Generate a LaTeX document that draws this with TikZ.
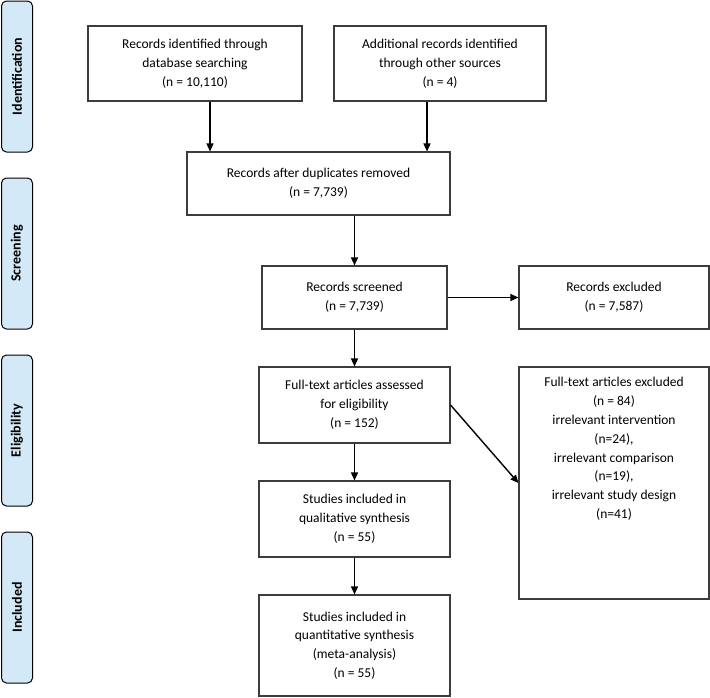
\documentclass[tikz,border=0pt]{standalone}
\usepackage{fontspec}
\setmainfont{Carlito}
\usetikzlibrary{arrows.meta}
\definecolor{phase}{RGB}{212,233,248}
\definecolor{boxline}{RGB}{60,60,60}
\begin{document}
\begin{tikzpicture}[x=1pt,y=-1pt,
  box/.style={draw=boxline,line width=1.1pt,fill=white,align=center,inner sep=2pt,
    font=\fontsize{13.5}{18.8}\selectfont},
  phasebox/.style={draw=black,line width=1pt,fill=phase,rounded corners=5pt,
    minimum height=31pt,minimum width=151pt,rotate=90,
    font=\fontsize{14}{16}\selectfont\bfseries},
  arr/.style={-{Triangle[length=8pt,width=7pt]},line width=1.4pt,black}]
\useasboundingbox (0,0) rectangle (710,697);
% phase labels
\node[phasebox] (pid) at (17,76.5) {Identification};
\node[phasebox] (psc) at (17,253.5) {Screening};
\node[phasebox] (pel) at (17,430.5) {Eligibility};
\node[phasebox] (pin) at (17,607.5) {Included};
% boxes
\node[box,minimum width=214pt,minimum height=75pt] (b1) at (195,63.5)
  {Records identified through\\database searching\\(n = 10,110)};
\node[box,minimum width=212pt,minimum height=75pt] (b2) at (440,63.5)
  {Additional records identified\\through other sources\\(n = 4)};
\node[box,minimum width=263pt,minimum height=63pt] (b3) at (318.5,183.5)
  {Records after duplicates removed\\(n = 7,739)};
\node[box,minimum width=185pt,minimum height=63pt] (b4) at (354.5,297.5)
  {Records screened\\(n = 7,739)};
\node[box,minimum width=190pt,minimum height=63pt] (b5) at (614,297.5)
  {Records excluded\\(n = 7,587)};
\node[box,minimum width=191pt,minimum height=76pt] (b6) at (354.5,405)
  {Full-text articles assessed\\for eligibility\\(n = 152)};
\node[box,minimum width=190pt,minimum height=232pt] (b7) at (614,483) {};
\node[box,draw=none,fill=none,anchor=north] (b7t) at (614,375)
  {Full-text articles excluded\\(n = 84)\\irrelevant intervention\\(n=24),\\irrelevant comparison\\(n=19),\\irrelevant study design\\(n=41)};
\node[box,minimum width=191pt,minimum height=76pt] (b8) at (354.5,519)
  {Studies included in\\qualitative synthesis\\(n = 55)};
\node[box,minimum width=191pt,minimum height=101pt] (b9) at (354.5,645.5)
  {Studies included in\\quantitative synthesis\\(meta-analysis)\\(n = 55)};
% connectors
\draw[arr] ([xshift=15pt]b1.south) -- ([xshift=15pt]b1.south |- b3.north);
\draw[arr] ([xshift=-13pt]b2.south) -- ([xshift=-13pt]b2.south |- b3.north);
\draw[arr] (b4.north |- b3.south) -- (b4.north);
\draw[arr] (b4.east) -- (b5.west);
\draw[arr] (b4.south) -- (b6.north);
\draw[arr] (b6.east) -- (b7.west);
\draw[arr] (b6.south) -- (b8.north);
\draw[arr] (b8.south) -- (b9.north);
\end{tikzpicture}
\end{document}
